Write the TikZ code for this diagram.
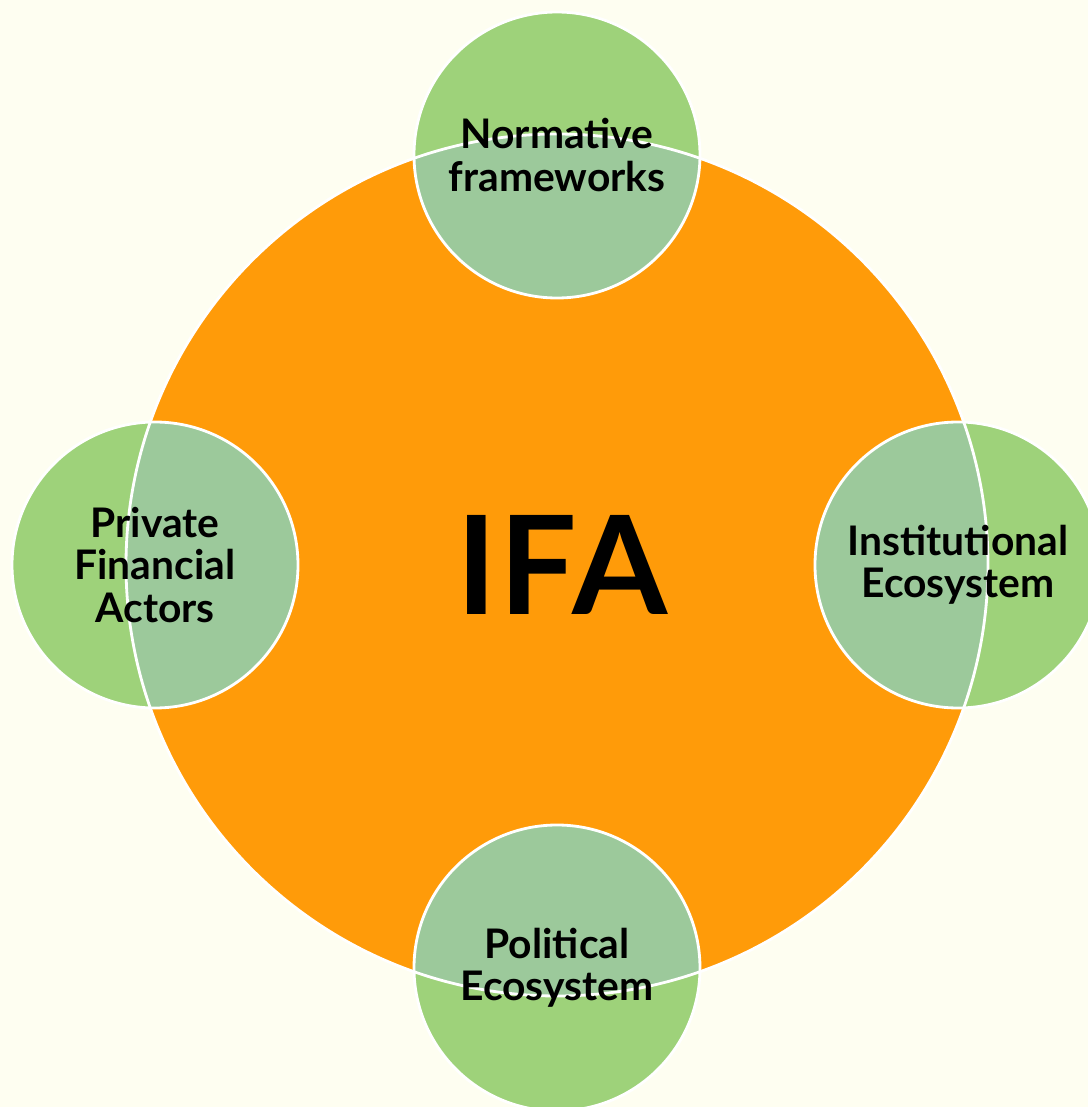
\documentclass[tikz,border=0pt]{standalone}
\usepackage{fontspec}
\setmainfont{Lato}
\usepackage{tikz}

\definecolor{paper}{HTML}{FEFEF1}
\definecolor{ifaorange}{HTML}{FF9B09}
\definecolor{leafgreen}{HTML}{9ED27A}
\definecolor{lensgreen}{HTML}{9CC99B}

\tikzset{
  hub/.style={circle, fill=ifaorange, draw=white, line width=0.8pt,
    minimum size=8.62cm, inner sep=0pt,
    font=\fontsize{39}{44}\selectfont\bfseries},
  petal/.style={circle, fill=leafgreen, draw=white, line width=0.8pt,
    minimum size=2.86cm, inner sep=0pt, align=center,
    font=\fontsize{11.6}{12}\selectfont\bfseries,
    % the part lying over the hub gets the mixed colour
    path picture={\fill[lensgreen] (ifa.center) circle (4.31);
      \draw[white, line width=0.8pt] (ifa.center) circle (4.31);}}
}

\begin{document}
\begin{tikzpicture}
\fill[paper] (0,0) rectangle (10.88,11.07);
\useasboundingbox (0,0) rectangle (10.88,11.07);

\node[hub] (ifa) at (5.57,5.42) {\hspace{0.1cm}\addfontfeature{LetterSpace=2}IFA};

\node[petal] (norm) at (5.57,9.52) {Normative\\frameworks};
\node[petal] (private) at (1.55,5.42) {Private\\Financial\\Actors};
\node[petal] (inst) at (9.58,5.42) {Institutional\\Ecosystem};
\node[petal] (politic) at (5.57,1.39) {Political\\Ecosystem};
\end{tikzpicture}
\end{document}
